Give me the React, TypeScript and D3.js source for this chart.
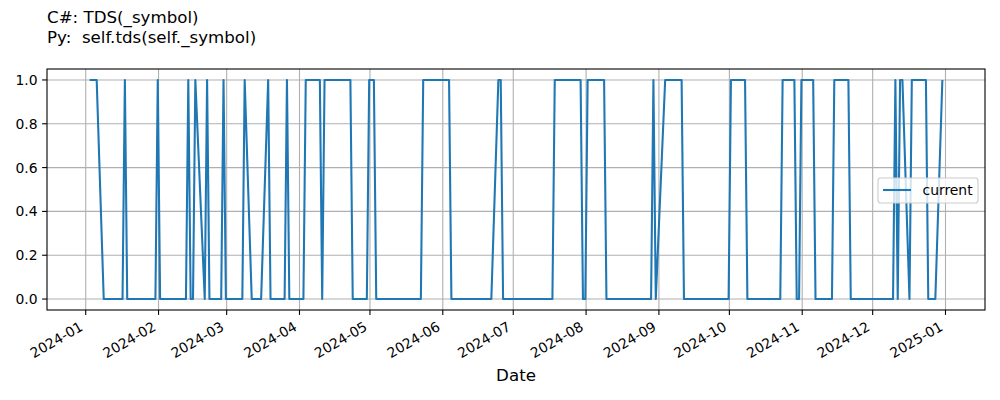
import React from "react";
import * as d3 from "d3";

const dates = [
  "2024-01-02", "2024-01-05", "2024-01-08", "2024-01-16", "2024-01-17", "2024-01-18",
  "2024-01-30", "2024-01-31", "2024-02-01", "2024-02-12", "2024-02-13", "2024-02-14",
  "2024-02-15", "2024-02-16", "2024-02-20", "2024-02-21", "2024-02-22", "2024-02-27",
  "2024-02-28", "2024-02-29", "2024-03-07", "2024-03-08", "2024-03-11", "2024-03-15",
  "2024-03-18", "2024-03-19", "2024-03-25", "2024-03-26", "2024-03-27", "2024-04-02",
  "2024-04-03", "2024-04-09", "2024-04-10", "2024-04-11", "2024-04-22", "2024-04-23",
  "2024-04-29", "2024-04-30", "2024-05-02", "2024-05-03", "2024-05-22", "2024-05-23",
  "2024-06-03", "2024-06-04", "2024-06-21", "2024-06-24", "2024-06-25", "2024-06-26",
  "2024-07-17", "2024-07-18", "2024-07-29", "2024-07-30", "2024-07-31", "2024-08-01",
  "2024-08-08", "2024-08-09", "2024-08-28", "2024-08-29", "2024-08-30", "2024-09-03",
  "2024-09-10", "2024-09-11", "2024-09-30", "2024-10-01", "2024-10-07", "2024-10-08",
  "2024-10-22", "2024-10-23", "2024-10-28", "2024-10-29", "2024-10-30", "2024-10-31",
  "2024-11-05", "2024-11-06", "2024-11-13", "2024-11-14", "2024-11-20", "2024-11-21",
  "2024-12-09", "2024-12-10", "2024-12-11", "2024-12-12", "2024-12-13", "2024-12-16",
  "2024-12-17", "2024-12-23", "2024-12-24", "2024-12-27", "2024-12-30",
];
const values = [
  1, 1, 0, 0, 1, 0,
  0, 1, 0, 0, 1, 0,
  0, 1, 0, 1, 0, 0,
  1, 0, 0, 1, 0, 0,
  1, 0, 0, 1, 0, 0,
  1, 1, 0, 1, 1, 0,
  0, 1, 1, 0, 0, 1,
  1, 0, 0, 1, 1, 0,
  0, 1, 1, 0, 0, 1,
  1, 0, 0, 1, 0, 1,
  1, 0, 0, 1, 1, 0,
  0, 1, 1, 0, 0, 1,
  1, 0, 0, 1, 1, 0,
  0, 1, 0, 1, 1, 0,
  1, 1, 0, 0, 1,
];
const yTicks = [0, 0.2, 0.4, 0.6, 0.8, 1.0];
const xTickLabels = [
  "2024-01", "2024-02", "2024-03", "2024-04", "2024-05", "2024-06", "2024-07",
  "2024-08", "2024-09", "2024-10", "2024-11", "2024-12", "2025-01",
];
const seriesName = "current";
const titleLines = ["C#: TDS(_symbol)", "Py:  self.tds(self._symbol)"];
const xLabel = "Date";

const FONT = "'DejaVu Sans', sans-serif";
const BLUE = "#1f77b4";

export default function App() {
  const L = 47, R = 985, T = 69, B = 310;
  const pts = dates.map((d, i) => ({ t: new Date(d + "T16:00:00"), v: values[i] }));
  const ext = d3.extent(pts, (p) => p.t.getTime()) as [number, number];
  const pad = (ext[1] - ext[0]) * 0.05;
  const x = d3.scaleTime().domain([new Date(ext[0] - pad), new Date(ext[1] + pad)]).range([L, R]);
  const y = d3.scaleLinear().domain([-0.05, 1.05]).range([B, T]);
  const line = d3.line<{ t: Date; v: number }>().x((p) => x(p.t)).y((p) => y(p.v));
  const xt = xTickLabels.map((s) => ({ s, px: x(new Date(s + "-01T00:00:00")) }));
  const fmt = d3.format(".1f");

  const lgX = 878, lgY = 178, lgW = 100, lgH = 25;

  return (
    <svg width={1000} height={400} style={{ position: "absolute", left: 0, top: 0, background: "#fff" }} fontFamily={FONT}>
      <rect x={0} y={0} width={1000} height={400} fill="#fff" />
      {titleLines.map((t, i) => (
        <text key={i} x={L} y={23 + i * 20} fontSize={16.67} fill="#000" style={{ whiteSpace: "pre" }}>{t}</text>
      ))}
      {/* grid */}
      {xt.map((d) => (
        <line key={"gx" + d.s} x1={d.px} x2={d.px} y1={T} y2={B} stroke="#b0b0b0" strokeWidth={1.1} />
      ))}
      {yTicks.map((v) => (
        <line key={"gy" + v} x1={L} x2={R} y1={y(v)} y2={y(v)} stroke="#b0b0b0" strokeWidth={1.1} />
      ))}
      <defs>
        <clipPath id="clip"><rect x={L} y={T} width={R - L} height={B - T} /></clipPath>
      </defs>
      <path d={line(pts) || ""} fill="none" stroke={BLUE} strokeWidth={2.08} strokeLinejoin="round" clipPath="url(#clip)" />
      {/* spines */}
      <rect x={L} y={T} width={R - L} height={B - T} fill="none" stroke="#000" strokeWidth={1.1} />
      {/* y ticks */}
      {yTicks.map((v) => (
        <g key={"ty" + v}>
          <line x1={L - 4.9} x2={L} y1={y(v)} y2={y(v)} stroke="#000" strokeWidth={1.1} />
          <text x={L - 9.5} y={y(v) + 5} fontSize={13.9} textAnchor="end" fill="#000">{fmt(v)}</text>
        </g>
      ))}
      {/* x ticks */}
      {xt.map((d) => (
        <g key={"tx" + d.s}>
          <line x1={d.px} x2={d.px} y1={B} y2={B + 4.9} stroke="#000" strokeWidth={1.1} />
          <text transform={`translate(${d.px - 1.7},${329.5}) rotate(-30)`} fontSize={13.9} textAnchor="end" fill="#000">{d.s}</text>
        </g>
      ))}
      <text x={(L + R) / 2} y={381} fontSize={16.67} textAnchor="middle" fill="#000">{xLabel}</text>
      {/* legend */}
      <rect x={lgX} y={lgY} width={lgW} height={lgH} rx={2.8} fill="#fff" fillOpacity={0.8} stroke="#cccccc" strokeWidth={1.1} />
      <line x1={lgX + 5} x2={lgX + 33} y1={lgY + 12} y2={lgY + 12} stroke={BLUE} strokeWidth={2.08} />
      <text x={lgX + 44.5} y={lgY + 17} fontSize={13.9} fill="#000">{seriesName}</text>
    </svg>
  );
}
